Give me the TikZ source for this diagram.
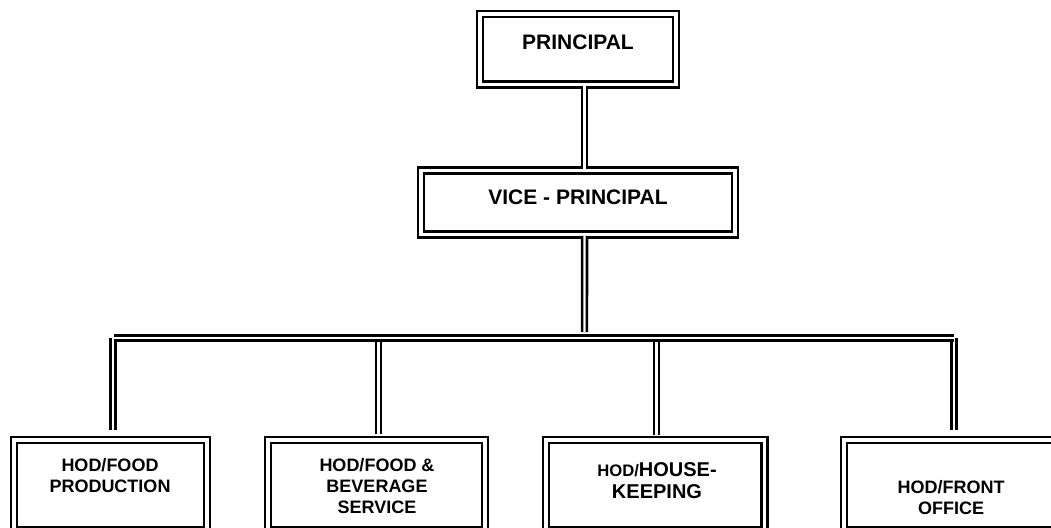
\documentclass[tikz,border=0pt]{standalone}
\usepackage{fontspec}
\setmainfont{Liberation Sans}
\begin{document}
\begin{tikzpicture}[x=0.75pt,y=-0.75pt,
  box/.style={draw=black, line width=2.1pt, double=white, double distance=2.3pt, fill=white, inner sep=0pt},
  conn/.style={draw=black, line width=1.9pt, double=white, double distance=1.8pt},
  busline/.style={draw=black, line width=2pt, double=white, double distance=2pt},
  bigtxt/.style={font=\bfseries\fontsize{15.75}{19}\selectfont, inner sep=0pt},
  smalltxt/.style={font=\bfseries\fontsize{13.5}{15.75}\selectfont, align=center, inner sep=0pt}
]
\useasboundingbox (0,0) rectangle (1051,528);
\clip (0,0) rectangle (1051,528);
\fill[white] (0,0) rectangle (1051,528);

% boxes
\node[box, minimum width=147pt, minimum height=52.9pt] (P) at (578,49.25) {};
\node[box, minimum width=235.5pt, minimum height=48pt] (VP) at (578,202.5) {};
\node[box, minimum width=144.75pt, minimum height=67.5pt] (B1) at (110.5,485) {};
\node[box, minimum width=162.75pt, minimum height=67.5pt] (B2) at (376.5,485) {};
\node[box, minimum width=163.9pt, minimum height=67.5pt] (B3) at (655.25,485) {};
\node[box, minimum width=160.5pt, minimum height=67.5pt] (B4) at (951,485) {};

% coordinates of the bus
\coordinate (busL) at (114,338);
\coordinate (busR) at (954,338);
\coordinate (vpb) at (584.5,332);
\coordinate (d1) at (113,338);
\coordinate (d2) at (378.5,338);
\coordinate (d3) at (656.5,338);
\coordinate (d4) at (954,338);

% connectors
\draw[conn] ([xshift=4.9pt]P.south) -- ([xshift=4.9pt]VP.north);
\draw[conn] ([xshift=4.9pt]VP.south) -- (vpb);
\draw[conn, shorten >=6.75pt] (d1) -- (d1 |- B1.north);
\draw[conn, shorten >=3.75pt] (d2) -- (d2 |- B2.north);
\draw[conn, shorten >=3pt] (d3) -- (d3 |- B3.north);
\draw[conn, shorten >=6.75pt] (d4) -- (d4 |- B4.north);
\draw[busline] (busL) -- (busR);

% texts
\node[bigtxt] (Pt) at (578,42) {PRINCIPAL};
\node[bigtxt] (VPt) at (578,197) {VICE - PRINCIPAL};
\node[smalltxt] (B1t) at (110,476) {HOD/FOOD\\PRODUCTION};
\node[smalltxt] (B2t) at (377,486) {HOD/FOOD \&\\BEVERAGE\\SERVICE};
\node[font=\bfseries\fontsize{15}{16.5}\selectfont, align=center, inner sep=0pt] (B3t) at (657,481) {{\fontsize{12.5}{16.5}\selectfont HOD/}HOUSE-\\KEEPING};
\node[smalltxt] (B4t) at (951,497.5) {HOD/FRONT\\OFFICE};
\end{tikzpicture}
\end{document}
